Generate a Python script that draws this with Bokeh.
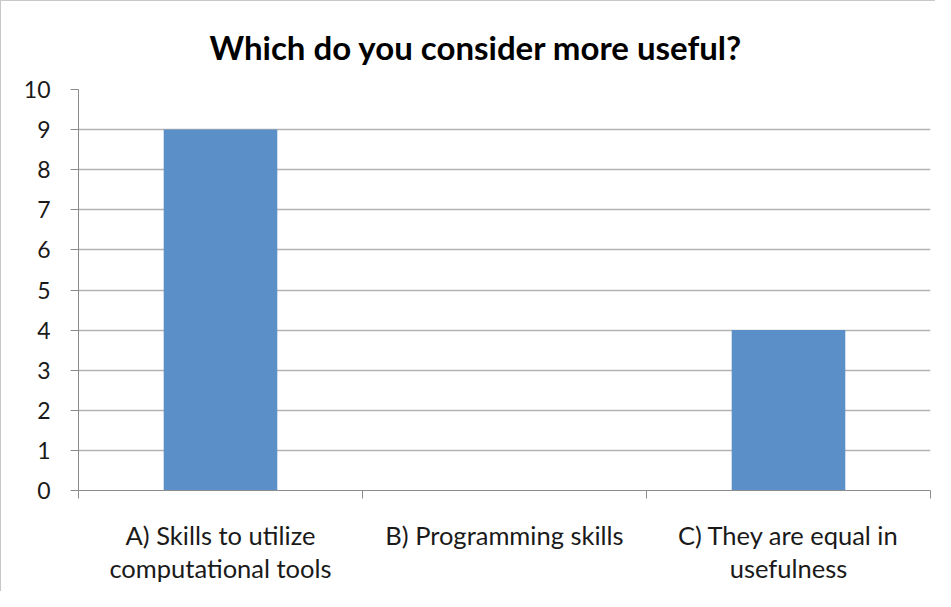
from bokeh.plotting import figure
from bokeh.models import Range1d, FixedTicker
from bokeh.embed import file_html
from bokeh.resources import INLINE

categories = ["A) Skills to utilize\ncomputational tools", "B) Programming skills", "C) They are equal in\nusefulness"]
values = [9, 0, 4]
y_ticks = [0, 1, 2, 3, 4, 5, 6, 7, 8, 9, 10]
title_text = "Which do you consider more useful?"

FONT = "Lato"

centers = [i + 0.5 for i in range(len(categories))]
bounds = list(range(len(categories) + 1))

p = figure(width=935, height=591, output_backend="svg", toolbar_location=None,
           x_range=Range1d(0, len(categories)), y_range=Range1d(0, max(y_ticks)),
           min_border_left=77, min_border_right=6,
           min_border_bottom=102, min_border_top=88)
p.vbar(x=centers, top=values, width=0.4, color="#5B8FC8", line_color=None)

p.title.text = title_text
p.title.align = "left"
p.title.offset = 131
p.title.text_font = FONT
p.title.text_font_size = "33px"
p.title.text_font_style = "bold"
p.title.text_color = "#000000"
p.title.standoff = 46

xa = p.xaxis[0]
xa.ticker = FixedTicker(ticks=centers, minor_ticks=bounds)
xa.major_label_overrides = {c: lab for c, lab in zip(centers, categories)}
xa.major_tick_line_color = None
xa.major_tick_out = 8
xa.minor_tick_out = 8
xa.minor_tick_in = 0
xa.minor_tick_line_color = "#8c8c8c"
xa.axis_line_color = "#8c8c8c"
xa.major_label_text_font = FONT
xa.major_label_text_font_size = "25.5px"
xa.major_label_text_color = "#1a1a1a"
xa.major_label_standoff = 21
xa.major_label_text_line_height = 1.12

ya = p.yaxis[0]
ya.ticker = FixedTicker(ticks=y_ticks)
ya.major_tick_out = 8
ya.major_tick_in = 0
ya.minor_tick_line_color = None
ya.axis_line_color = "#8c8c8c"
ya.major_tick_line_color = "#8c8c8c"
ya.major_label_text_font = FONT
ya.major_label_text_font_size = "23px"
ya.major_label_text_color = "#1a1a1a"
ya.major_label_standoff = 20

p.xgrid.grid_line_color = None
p.ygrid.grid_line_color = "#b3b3b3"
p.ygrid.grid_line_width = 1.5
p.outline_line_color = None
p.styles = {"border-left": "1px solid #c8c8c8", "border-top": "1px solid #c8c8c8"}

open("out.html", "w").write(file_html(p, INLINE))
